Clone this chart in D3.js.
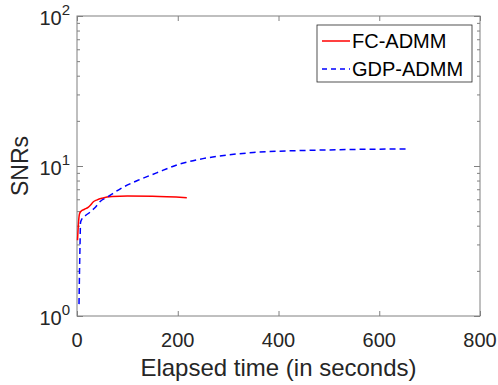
<!DOCTYPE html>
<html>
<head>
<meta charset="utf-8">
<script src="https://cdn.jsdelivr.net/npm/d3@7"></script>
<style>
  body { margin: 0; background: #fff; }
  svg { font-family: "Liberation Sans", Arial, sans-serif; }
</style>
</head>
<body>
<div id="chart"></div>
<script>
var w = 498;
var h = 385;

// series (seconds, SNR)
var fcTime = [1, 2, 3, 5, 8, 15, 22, 27, 32, 40, 50, 70, 100, 150, 218];
var fcSnr = [3.2, 3.7, 4.2, 4.8, 5.0, 5.15, 5.3, 5.5, 5.75, 5.95, 6.1, 6.25, 6.3, 6.28, 6.15];
var gdpTime = [4, 5, 6, 7, 10, 16, 25, 35, 46, 60, 91, 120, 158, 200, 250, 300, 350, 400, 450, 500, 550, 600, 654];
var gdpSnr = [1.2, 2.0, 3.0, 4.2, 4.45, 4.65, 4.9, 5.25, 5.8, 6.2, 7.2, 8.0, 9.0, 10.2, 11.2, 11.85, 12.3, 12.55, 12.7, 12.8, 12.9, 12.95, 13.0];
var xTicks = [0, 200, 400, 600, 800];
var yMajor = [1, 10, 100];
var seriesNames = ["FC-ADMM", "GDP-ADMM"];

var margin = { left: 77, right: 18, top: 16, bottom: 69 };
var axisColor = "#808080";
var textColor = "#262626";

var svg = d3.select("#chart").append("svg")
    .attr("width", w)
    .attr("height", h);

var x = d3.scaleLinear().domain([0, 800]).range([margin.left, w - margin.right]);
var y = d3.scaleLog().domain([1, 100]).range([h - margin.bottom, margin.top]);

// minor ticks for the log axis
var yMinor = [];
[1, 10].forEach(function (dec) {
    for (var k = 2; k <= 9; k++) yMinor.push(dec * k);
});

function styleAxis(g) {
    g.select(".domain").remove();
    g.selectAll("line").attr("stroke", axisColor);
}

// x ticks, bottom and top, pointing inward
svg.append("g").attr("transform", "translate(0," + y(1) + ")")
    .call(d3.axisBottom(x).tickValues(xTicks).tickSize(-5).tickFormat(""))
    .call(styleAxis);
svg.append("g").attr("transform", "translate(0," + y(100) + ")")
    .call(d3.axisTop(x).tickValues(xTicks).tickSize(-5).tickFormat(""))
    .call(styleAxis);

// y ticks, left and right
svg.append("g").attr("transform", "translate(" + x(0) + ",0)")
    .call(d3.axisLeft(y).tickValues(yMajor).tickSize(-6).tickFormat(""))
    .call(styleAxis);
svg.append("g").attr("transform", "translate(" + x(0) + ",0)")
    .call(d3.axisLeft(y).tickValues(yMinor).tickSize(-3).tickFormat(""))
    .call(styleAxis);
svg.append("g").attr("transform", "translate(" + x(800) + ",0)")
    .call(d3.axisRight(y).tickValues(yMajor).tickSize(-6).tickFormat(""))
    .call(styleAxis);
svg.append("g").attr("transform", "translate(" + x(800) + ",0)")
    .call(d3.axisRight(y).tickValues(yMinor).tickSize(-3).tickFormat(""))
    .call(styleAxis);

// box
svg.append("rect")
    .attr("x", x(0)).attr("y", y(100))
    .attr("width", x(800) - x(0)).attr("height", y(1) - y(100))
    .attr("fill", "none").attr("stroke", axisColor).attr("stroke-width", 1);

// tick labels
svg.selectAll(".xlab").data(xTicks).enter().append("text")
    .attr("x", function (d) { return x(d); })
    .attr("y", y(1) + 31)
    .attr("text-anchor", "middle")
    .attr("font-size", 20)
    .attr("fill", textColor)
    .text(function (d) { return d; });

var ylab = svg.selectAll(".ylab").data(yMajor).enter().append("text")
    .attr("x", x(0) - 7)
    .attr("y", function (d) { return y(d) + 9; })
    .attr("text-anchor", "end")
    .attr("font-size", 20)
    .attr("fill", textColor);
ylab.append("tspan").text("10");
ylab.append("tspan").attr("dy", -10).attr("font-size", 15)
    .text(function (d) { return Math.round(Math.log10(d)); });

// axis titles
svg.append("text")
    .attr("x", (x(0) + x(800)) / 2)
    .attr("y", h - 9)
    .attr("text-anchor", "middle")
    .attr("font-size", 24)
    .attr("fill", textColor)
    .text("Elapsed time (in seconds)");

svg.append("text")
    .attr("transform", "translate(28," + y(10) + ") rotate(-90)")
    .attr("text-anchor", "middle")
    .attr("font-size", 23)
    .attr("fill", textColor)
    .text("SNRs");

// lines
var line = d3.line()
    .x(function (d) { return x(d[0]); })
    .y(function (d) { return y(d[1]); })
    .curve(d3.curveMonotoneX);

svg.append("path")
    .datum(d3.zip(fcTime, fcSnr))
    .attr("fill", "none")
    .attr("stroke", "#ff0000")
    .attr("stroke-width", 1.5)
    .attr("d", line);

svg.append("path")
    .datum(d3.zip(gdpTime, gdpSnr))
    .attr("fill", "none")
    .attr("stroke", "#0000ff")
    .attr("stroke-width", 1.5)
    .attr("stroke-dasharray", "6,4")
    .attr("d", line);

// legend
var lg = svg.append("g");
lg.append("rect")
    .attr("x", 317).attr("y", 25)
    .attr("width", 155).attr("height", 57)
    .attr("fill", "#fff").attr("stroke", textColor).attr("stroke-width", 0.8);

var legendColors = ["#ff0000", "#0000ff"];
var legendDash = [null, "5,4"];
seriesNames.forEach(function (name, i) {
    var ly = 41 + i * 28;
    lg.append("line")
        .attr("x1", 322).attr("x2", 350)
        .attr("y1", ly).attr("y2", ly)
        .attr("stroke", legendColors[i])
        .attr("stroke-width", 1.5)
        .attr("stroke-dasharray", legendDash[i]);
    lg.append("text")
        .attr("x", 352).attr("y", ly + 7)
        .attr("font-size", 20)
        .attr("fill", "#000")
        .text(name);
});
</script>
</body>
</html>
